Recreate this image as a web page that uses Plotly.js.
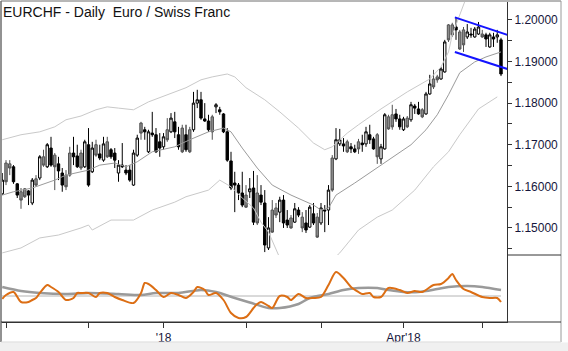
<!DOCTYPE html>
<html><head><meta charset="utf-8">
<script src="https://cdn.plot.ly/plotly-3.0.1.min.js"></script>
<style>html,body{margin:0;padding:0;background:#fff;}#chart{width:568px;height:351px;}</style>
</head><body><div id="chart"></div>
<script>
// ---- daily candles (bar index -1 = 31 Oct 2017, 0 = 1 Nov 2017) ----
const open = [1.1582,1.1656,1.1654,1.1647,1.1606,1.1587,1.1594,1.1589,1.1560,1.1618,
1.1620,1.1671,1.1647,1.1692,1.1675,1.1654,1.1632,1.1627,1.1680,1.1680,
1.1673,1.1680,1.1647,1.1700,1.1635,1.1700,1.1678,1.1663,1.1707,1.1688,
1.1680,1.1632,1.1651,1.1639,1.1639,1.1603,1.1675,1.1752,1.1736,1.1683,
1.1728,1.1724,1.1707,1.1695,1.1736,1.1731,1.1755,1.1724,1.1740,1.1724,
1.1736,1.1736,1.1800,1.1808,1.1762,1.1757,1.1767,1.1791,1.1784,1.1774,
1.1731,1.1661,1.1608,1.1603,1.1584,1.1579,1.1587,1.1596,1.1584,1.1579,
1.1560,1.1452,1.1543,1.1548,1.1538,1.1567,1.1519,1.1524,1.1514,1.1543,
1.1526,1.1512,1.1502,1.1534,1.1526,1.1512,1.1543,1.1543,1.1668,1.1666,
1.1702,1.1702,1.1707,1.1695,1.1690,1.1707,1.1704,1.1702,1.1724,1.1714,
1.1724,1.1666,1.1690,1.1767,1.1772,1.1774,1.1762,1.1736,1.1764,1.1760,
1.1793,1.1786,1.1784,1.1774,1.1822,1.1858,1.1863,1.1858,1.1875,1.1988,
1.1988,1.1983,1.1971,1.1976,1.1959,1.1966,1.1959,1.1966,1.1966,1.1964,
1.1935,1.1959,1.1959,1.1952];
const high = [1.1632,1.1663,1.1663,1.1651,1.1608,1.1596,1.1596,1.1591,1.1620,1.1627,
1.1675,1.1688,1.1704,1.1719,1.1680,1.1671,1.1644,1.1639,1.1695,1.1719,
1.1700,1.1688,1.1712,1.1740,1.1707,1.1712,1.1700,1.1719,1.1719,1.1692,
1.1692,1.1663,1.1704,1.1651,1.1651,1.1688,1.1724,1.1755,1.1743,1.1736,
1.1779,1.1740,1.1728,1.1728,1.1764,1.1776,1.1779,1.1743,1.1748,1.1748,
1.1743,1.1827,1.1832,1.1827,1.1800,1.1772,1.1772,1.1800,1.1791,1.1776,
1.1740,1.1683,1.1635,1.1608,1.1635,1.1603,1.1620,1.1637,1.1627,1.1603,
1.1591,1.1526,1.1567,1.1560,1.1575,1.1579,1.1543,1.1531,1.1560,1.1550,
1.1538,1.1543,1.1555,1.1560,1.1536,1.1560,1.1555,1.1603,1.1675,1.1740,
1.1738,1.1716,1.1712,1.1704,1.1700,1.1714,1.1724,1.1743,1.1748,1.1719,
1.1728,1.1702,1.1776,1.1772,1.1796,1.1786,1.1772,1.1767,1.1769,1.1803,
1.1798,1.1803,1.1788,1.1827,1.1868,1.1880,1.1868,1.1887,1.1952,1.1990,
1.1993,1.2007,1.1976,1.1983,1.1990,1.1981,1.1983,1.1995,1.1976,1.1969,
1.1969,1.1969,1.1976,1.1957];
const low = [1.1579,1.1603,1.1627,1.1606,1.1572,1.1546,1.1572,1.1555,1.1555,1.1599,
1.1615,1.1647,1.1644,1.1647,1.1591,1.1615,1.1587,1.1591,1.1623,1.1651,
1.1644,1.1639,1.1644,1.1599,1.1632,1.1671,1.1663,1.1659,1.1668,1.1666,
1.1644,1.1611,1.1644,1.1627,1.1611,1.1601,1.1671,1.1712,1.1712,1.1680,
1.1719,1.1680,1.1671,1.1688,1.1707,1.1728,1.1716,1.1688,1.1680,1.1683,
1.1680,1.1731,1.1788,1.1760,1.1755,1.1731,1.1712,1.1776,1.1772,1.1728,
1.1659,1.1591,1.1538,1.1567,1.1550,1.1548,1.1572,1.1507,1.1507,1.1555,
1.1442,1.1447,1.1488,1.1524,1.1514,1.1500,1.1500,1.1498,1.1512,1.1526,
1.1490,1.1488,1.1500,1.1507,1.1476,1.1507,1.1490,1.1507,1.1587,1.1663,
1.1697,1.1683,1.1680,1.1680,1.1680,1.1678,1.1683,1.1695,1.1702,1.1688,
1.1654,1.1654,1.1688,1.1736,1.1736,1.1755,1.1736,1.1733,1.1740,1.1755,
1.1774,1.1772,1.1764,1.1772,1.1820,1.1834,1.1849,1.1856,1.1873,1.1947,
1.1959,1.1952,1.1928,1.1923,1.1954,1.1957,1.1957,1.1964,1.1957,1.1935,
1.1933,1.1935,1.1945,1.1865];
const close = [1.1615,1.1611,1.1644,1.1611,1.1579,1.1567,1.1575,1.1579,1.1615,1.1603,
1.1671,1.1651,1.1700,1.1651,1.1647,1.1637,1.1603,1.1599,1.1627,1.1671,
1.1647,1.1644,1.1707,1.1603,1.1692,1.1675,1.1668,1.1702,1.1671,1.1671,
1.1663,1.1651,1.1647,1.1632,1.1615,1.1680,1.1716,1.1728,1.1731,1.1731,
1.1724,1.1683,1.1692,1.1719,1.1712,1.1764,1.1731,1.1695,1.1683,1.1688,
1.1683,1.1800,1.1808,1.1764,1.1757,1.1736,1.1731,1.1796,1.1779,1.1731,
1.1663,1.1596,1.1603,1.1584,1.1555,1.1550,1.1594,1.1514,1.1512,1.1562,
1.1459,1.1500,1.1490,1.1531,1.1567,1.1512,1.1507,1.1500,1.1546,1.1531,
1.1500,1.1495,1.1550,1.1512,1.1478,1.1548,1.1541,1.1591,1.1591,1.1712,
1.1712,1.1697,1.1683,1.1690,1.1683,1.1690,1.1700,1.1731,1.1712,1.1690,
1.1671,1.1695,1.1772,1.1738,1.1743,1.1762,1.1743,1.1762,1.1743,1.1796,
1.1788,1.1774,1.1767,1.1822,1.1846,1.1839,1.1856,1.1882,1.1947,1.1952,
1.1964,1.1976,1.1930,1.1940,1.1971,1.1964,1.1978,1.1983,1.1959,1.1954,
1.1964,1.1954,1.1964,1.1870];
// candle body colour class: w = hollow, g = grey, b = black
const candleClass = ['w','g','g','b','b','g','g','b','w','g',
'w','g','w','b','g','b','b','g','g','b',
'b','g','w','b','w','g','b','w','g','b',
'b','w','b','b','b','w','w','g','b','w',
'b','b','b','w','g','w','b','b','g','b',
'g','w','w','b','b','b','g','w','b','b',
'b','b','b','b','b','g','w','b','g','b',
'b','w','g','g','w','b','b','g','w','b',
'g','b','w','b','g','w','b','w','g','w',
'w','b','g','b','b','g','b','w','b','b',
'g','w','w','g','g','b','b','w','g','w',
'b','b','g','w','w','g','g','w','w','g',
'g','b','g','g','w','b','w','w','g','b',
'w','b','w','b'];

// ---- bands ----
const upperX = [-1,4,9,13,16,20,24,27,30,34,38,43,48,52,55,59,61,64,69,73,78,82,85,87,91,94,100,107,113,116,118,119,121,123];
const upperBand = [1.1712,1.1724,1.1731,1.1743,1.1760,1.1769,1.1784,1.1791,1.1788,1.1784,1.1803,1.1820,1.1837,1.1856,1.1863,1.1870,1.1863,1.1837,1.1808,1.1779,1.1740,1.1704,1.1688,1.1695,1.1728,1.1748,1.1786,1.1827,1.1858,1.1887,1.1923,1.1964,1.2010,1.2060];
const maX = [-1,2,7,13,16,22,25,29,32,35,39,45,49,54,58,60,63,67,71,76,82,84,86,88,93,98,103,108,112,115,118,121,125,128,132];
const maLine = [1.1579,1.1587,1.1596,1.1615,1.1627,1.1639,1.1651,1.1656,1.1647,1.1659,1.1683,1.1695,1.1712,1.1731,1.1740,1.1731,1.1692,1.1644,1.1603,1.1579,1.1555,1.1543,1.1548,1.1579,1.1608,1.1639,1.1668,1.1700,1.1736,1.1772,1.1820,1.1873,1.1899,1.1911,1.1923];
const lowerX = [-1,4,9,14,20,22,23,28,34,39,45,48,54,57,60,63,66,68,70,73,80,89,94,99,103,109,114,118,121,126,131];
const lowerBand = [1.1440,1.1452,1.1476,1.1483,1.1500,1.1507,1.1495,1.1519,1.1519,1.1543,1.1562,1.1575,1.1591,1.1615,1.1599,1.1572,1.1548,1.1514,1.1490,1.1428,1.1363,1.1440,1.1495,1.1526,1.1543,1.1591,1.1647,1.1683,1.1724,1.1786,1.1815];

// ---- hand-drawn channel ----
const chanX = [119.7, 134.4];
const chanTop = [1.2006, 1.1962];
const chanBottom = [1.1923, 1.1880];

// ---- lower pane oscillator ----
const oscX = [-1,0,2,4,6,7,8,9,11,12,14,16,18,19,20,22,24,25,27,29,31,34,36,37,38,40,42,44,46,48,50,51,53,54,56,58,60,62,64,66,67,68,70,71,73,75,76,78,80,82,84,86,88,90,92,94,95,97,98,100,102,105,107,109,111,114,116,118,119,120,122,124,127,129,131,132];
const oscVal = [-3,1,4,-6,-6,-4,-2,3,11,9,4,-4,-2,3,3,3,-1,3,3,-1,-4,-7,3,13,12,6,-1,3,1,-2,4,9,6,1,3,-4,-17,-22,-21,-12,-8,-6,-10,-12,0,-1,-4,2,-2,-2,-1,11,24,18,9,4,2,3,-1,-1,8,6,3,5,4,11,12,18,22,16,7,4,-1,-2,-2,-6];
const sigX = [-1,4,9,16,22,30,36,40,46,52,56,61,65,70,73,78,81,86,90,94,99,102,106,110,115,118,123,127,132];
const sigVal = [9,5,3,2,3,2,1,3,3,6,4,-2,-6.5,-12,-12,-8,-2,2,6,8,8,6,4,4,7,9,10,9,6];

// ---- axis ticks ----
const tickIdx = [0,22,42,64,84,106,127];
const tickLabels = ['', '', "'18", '', '', "Apr'18", ''];
const titleText = 'EURCHF - Daily\u00a0 Euro / Swiss Franc';

const barIndex = open.map((_, k) => k - 1);

const styles = {
  w: {fill: '#ffffff', line: '#000000'},
  g: {fill: '#8c8c8c', line: '#505050'},
  b: {fill: '#000000', line: '#000000'}
};
function candles(c) {
  const k = [];
  candleClass.forEach((v, j) => { if (v === c) k.push(j); });
  const st = styles[c];
  const side = {fillcolor: st.fill, line: {color: st.line, width: 1}};
  return {
    type: 'candlestick', xaxis: 'x', yaxis: 'y',
    x: k.map(j => barIndex[j]), open: k.map(j => open[j]), high: k.map(j => high[j]),
    low: k.map(j => low[j]), close: k.map(j => close[j]),
    increasing: side, decreasing: side, whiskerwidth: 0, hoverinfo: 'skip', showlegend: false
  };
}
function line(x, y, color, width, yaxis, shape) {
  return {type: 'scatter', mode: 'lines', x: x, y: y, xaxis: 'x', yaxis: yaxis,
    line: {color: color, width: width, shape: shape || 'linear', smoothing: 0.8},
    hoverinfo: 'skip', showlegend: false};
}

const traces = [
  line(upperX, upperBand, '#c9c9c9', 1, 'y'),
  line(lowerX, lowerBand, '#c9c9c9', 1, 'y'),
  line(maX, maLine, '#9b9b9b', 1, 'y'),
  candles('w'), candles('g'), candles('b'),
  line(chanX, chanTop, '#1414ff', 2, 'y'),
  line(chanX, chanBottom, '#1414ff', 2, 'y'),
  line(sigX, sigVal, '#9a9a9a', 2.5, 'y2', 'spline'),
  line(oscX, oscVal, '#dc6e14', 2, 'y2', 'spline')
];

// pixel helpers for frame decorations (plot area is 2..507 x 2..322)
const PX = p => (p - 2) / 505;
const PY = p => (322 - p) / 320;
const frame = '#6e6e6e';
const shapes = [
  {type: 'rect', xref: 'paper', yref: 'paper', x0: PX(0), x1: PX(568), y0: PY(342.5), y1: PY(351), fillcolor: '#f0f0f0', line: {width: 0}},
  {type: 'line', xref: 'x', yref: 'y2', x0: -1.2, x1: 132, y0: 0, y1: 0, line: {color: '#b4b4b4', width: 1}, layer: 'below'},
  {type: 'line', xref: 'paper', yref: 'paper', x0: PX(1), x1: PX(1), y0: PY(1), y1: PY(342), line: {color: frame, width: 1.5}},
  {type: 'line', xref: 'paper', yref: 'paper', x0: PX(1), x1: PX(561), y0: PY(1), y1: PY(1), line: {color: frame, width: 1}},
  {type: 'line', xref: 'paper', yref: 'paper', x0: PX(561), x1: PX(561), y0: PY(1), y1: PY(342), line: {color: '#9a9a9a', width: 1}},
  {type: 'line', xref: 'paper', yref: 'paper', x0: PX(1), x1: PX(561), y0: PY(342), y1: PY(342), line: {color: '#d8d8d8', width: 1}},
  {type: 'line', xref: 'paper', yref: 'paper', x0: PX(507), x1: PX(561), y0: PY(255), y1: PY(255), line: {color: '#333333', width: 1}},
  {type: 'line', xref: 'paper', yref: 'paper', x0: PX(1), x1: PX(561), y0: PY(322), y1: PY(322), line: {color: '#333333', width: 1}}
];

const layout = {
  width: 568, height: 351,
  margin: {l: 2, r: 61, t: 2, b: 29, pad: 0},
  paper_bgcolor: '#ffffff', plot_bgcolor: '#ffffff',
  showlegend: false,
  font: {family: 'Liberation Sans, Arial, sans-serif', size: 12, color: '#16163c'},
  title: {text: titleText, xref: 'container', yref: 'container', x: 3 / 568, xanchor: 'left',
          y: 1 - 7.5 / 351, yanchor: 'top', font: {family: 'Liberation Sans, Arial, sans-serif', size: 14, color: '#111111'}},
  boxgap: 0.2, boxgroupgap: 0.2,
  xaxis: {domain: [0, 1], anchor: 'y2', range: [-1.07, 133.6], showgrid: false, zeroline: false,
          showline: true, linecolor: '#333333', linewidth: 1, ticks: 'outside', ticklen: 5, tickcolor: '#333333',
          tickmode: 'array', tickvals: tickIdx, ticktext: tickLabels, rangeslider: {visible: false}, fixedrange: true},
  yaxis: {domain: [67 / 320, 1], anchor: 'x', side: 'right', range: [1.1435, 1.2043], tick0: 1.15, dtick: 0.01,
          tickformat: '.5f', ticks: 'outside', ticklen: 4, tickcolor: '#333333', showline: true, linecolor: '#333333',
          showgrid: false, zeroline: false, fixedrange: true,
          minor: {dtick: 0.005, tick0: 1.15, ticks: 'outside', ticklen: 4, tickcolor: '#333333', showgrid: false}},
  yaxis2: {domain: [0, 67 / 320], anchor: 'x', side: 'right', range: [-26, 41], showline: true, linecolor: '#333333',
           showticklabels: false, ticks: '', showgrid: false, zeroline: false, fixedrange: true},
  shapes: shapes
};

Plotly.newPlot('chart', traces, layout, {displayModeBar: false, staticPlot: true});
</script>
</body></html>
